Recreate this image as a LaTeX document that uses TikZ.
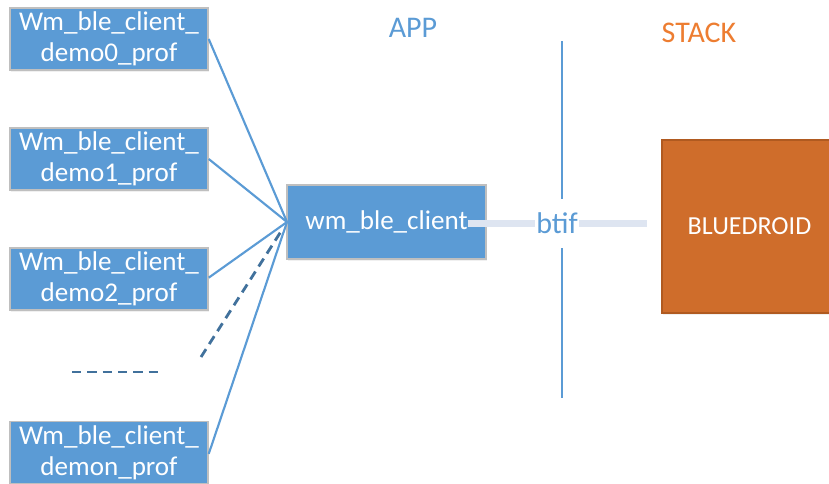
\documentclass[tikz,border=0pt]{standalone}
\usepackage{fontspec}
\setmainfont{Carlito}
\usetikzlibrary{shadows,calc}
\definecolor{appblue}{HTML}{5B9BD5}
\definecolor{darkblue}{HTML}{41719C}
\definecolor{stackorange}{HTML}{ED7D31}
\definecolor{bdfill}{HTML}{CF6D2B}
\definecolor{bdborder}{HTML}{B05A20}
\definecolor{lightline}{HTML}{DEE5F1}
\definecolor{boxborder}{HTML}{BFBFBF}
\tikzset{
  profbox/.style={draw=boxborder, line width=1.1pt, fill=appblue, text=white,
    minimum width=148.5pt, minimum height=46.5pt, align=center,
    font=\fontsize{20.3}{23.5}\selectfont, inner sep=0pt,
    drop shadow={opacity=0.12, shadow xshift=1pt, shadow yshift=-1.5pt}},
  conn/.style={draw=appblue, line width=1.6pt},
  dashconn/.style={draw=darkblue, line width=2.1pt, dash pattern=on 7pt off 4.5pt},
  label/.style={font=\fontsize{22.5}{26}\selectfont}
}
\begin{document}
\begin{tikzpicture}[x=0.75pt,y=-0.75pt]
\useasboundingbox (0,0) rectangle (829,483);
% titles
\node[label, text=appblue] (app) at (413,28) {APP};
\node[label, text=stackorange] (stack) at (699,33) {STACK};
% profile boxes
\node[profbox] (p0) at (109,39) {Wm\_ble\_client\_\\demo0\_prof};
\node[profbox] (p1) at (109,159) {Wm\_ble\_client\_\\demo1\_prof};
\node[profbox] (p2) at (109,279) {Wm\_ble\_client\_\\demo2\_prof};
\node[profbox] (pn) at (109,452.5) {Wm\_ble\_client\_\\demon\_prof};
% client box
\node[profbox, minimum width=149.25pt, minimum height=55.5pt] (wm) at (386.5,222) {wm\_ble\_client};
% bluedroid
\node[draw=bdborder, line width=1.1pt, fill=bdfill, minimum width=131.25pt, minimum height=129.75pt,
  text=white, font=\fontsize{19.5}{23}\selectfont, inner sep=0pt,
  drop shadow={opacity=0.12, shadow xshift=1pt, shadow yshift=-1.5pt}] (bd) at (749.5,226.5) {BLUEDROID};
% vertical divider
\coordinate (vtop) at (562,41);
\coordinate (vbot) at (562,398);
\draw[conn] (vtop) -- (vbot);
% btif link
\coordinate (linkstart) at (468,223);
\coordinate (linkend) at (647,223);
\draw[lightline, line width=5.25pt] (linkstart) -- (linkend);
\node[fill=white, text=appblue, font=\fontsize{22.5}{26}\selectfont, inner xsep=1pt, inner ysep=0pt,
  minimum height=36.75pt] (btif) at (557,223) {btif};
% connectors
\coordinate (hub) at (287,222);
\draw[conn] (p0.east) -- (hub);
\draw[conn] (p1.east) -- (hub);
\draw[conn] ([yshift=1pt]p2.east) -- (hub);
\draw[conn] ([yshift=-1pt]pn.east) -- (hub);
\coordinate (dstart) at (201,357);
\draw[dashconn] (dstart) -- ($(dstart)!0.93!(hub)$);
\coordinate (h1) at (72,372);
\coordinate (h2) at (163,372);
\draw[dashconn] (h1) -- (h2);
\end{tikzpicture}
\end{document}
